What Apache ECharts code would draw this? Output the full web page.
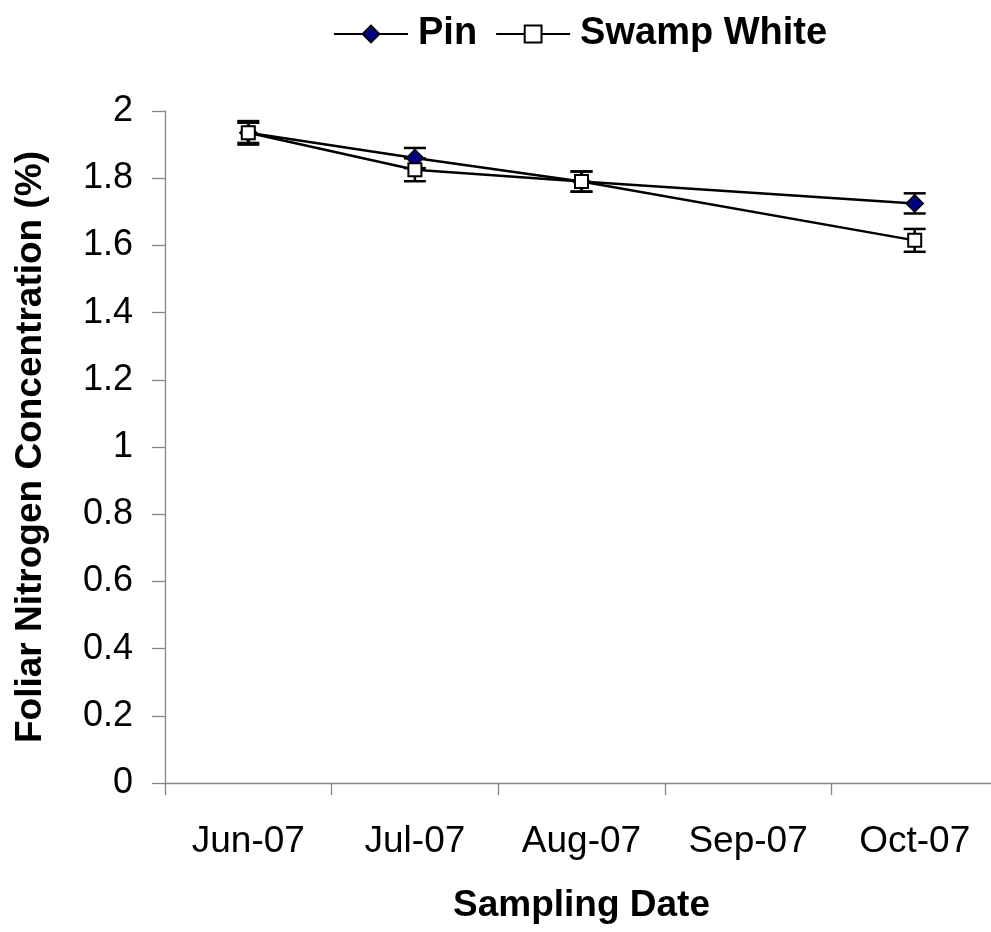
<!DOCTYPE html>
<html><head><meta charset="utf-8">
<script src="https://cdn.jsdelivr.net/npm/echarts@6/dist/echarts.min.js"></script>
<style>html,body{margin:0;padding:0;background:#fff;overflow:hidden}#c{width:1010px;height:932px}</style>
</head><body><div id="c"></div>
<script>
const categories = ['Jun-07', 'Jul-07', 'Aug-07', 'Sep-07', 'Oct-07'];
const pinValues = [1.935, 1.86, 1.79, null, 1.725];
const pinErrors = [0.03, 0.03, 0.03, null, 0.03];
const swampValues = [1.935, 1.825, 1.79, null, 1.615];
const swampErrors = [0.035, 0.034, 0.03, null, 0.034];

const FONT = 'Arial, "Liberation Sans", sans-serif';

function errData(vals, errs) {
  const out = [];
  vals.forEach((v, i) => { if (v != null) out.push([i, v, errs[i]]); });
  return out;
}
function errRender(params, api) {
  const x = api.value(0), v = api.value(1), e = api.value(2);
  const hi = api.coord([x, v + e]), lo = api.coord([x, v - e]);
  const cw = 11;
  const st = { stroke: '#000', lineWidth: 2.5 };
  return { type: 'group', children: [
    { type: 'line', shape: { x1: hi[0], y1: hi[1], x2: lo[0], y2: lo[1] }, style: st },
    { type: 'line', shape: { x1: hi[0] - cw, y1: hi[1], x2: hi[0] + cw, y2: hi[1] }, style: st },
    { type: 'line', shape: { x1: lo[0] - cw, y1: lo[1], x2: lo[0] + cw, y2: lo[1] }, style: st }
  ]};
}

const chart = echarts.init(document.getElementById('c'), null, { renderer: 'canvas' });
chart.setOption({
  backgroundColor: '#fff',
  animation: false,
  textStyle: { fontFamily: FONT },
  legend: {
    data: ['Pin', 'Swamp White'],
    left: 328, top: 10,
    itemWidth: 74, itemHeight: 21, itemGap: 18,
    textStyle: { fontFamily: FONT, fontSize: 38, fontWeight: 'bold', color: '#000', padding: [0, 0, 0, 5] }
  },
  grid: { left: 165, top: 111, width: 833, height: 672, containLabel: false },
  xAxis: {
    type: 'category', data: categories, boundaryGap: true,
    name: 'Sampling Date', nameLocation: 'middle', nameGap: 104,
    nameTextStyle: { fontFamily: FONT, fontSize: 37, fontWeight: 'bold', color: '#000' },
    axisLine: { lineStyle: { color: '#868686', width: 1.3 } },
    axisTick: { show: true, inside: false, length: 12, alignWithLabel: false, lineStyle: { color: '#868686', width: 1.3 } },
    axisLabel: { fontFamily: FONT, fontSize: 37, color: '#000', margin: 40, interval: 0 },
    splitLine: { show: false }
  },
  yAxis: {
    type: 'value', min: 0, max: 2, interval: 0.2,
    name: 'Foliar Nitrogen Concentration (%)', nameLocation: 'middle', nameGap: 116,
    nameTextStyle: { fontFamily: FONT, fontSize: 37, fontWeight: 'bold', color: '#000' },
    axisLine: { show: true, lineStyle: { color: '#868686', width: 1.3 } },
    axisTick: { show: true, inside: false, length: 13, lineStyle: { color: '#868686', width: 1.3 } },
    axisLabel: { fontFamily: FONT, fontSize: 36, color: '#000', margin: 32,
      formatter: v => String(Math.round(v * 10) / 10) },
    splitLine: { show: false }
  },
  series: [
    { name: 'PinErr', type: 'custom', data: errData(pinValues, pinErrors), renderItem: errRender, silent: true, z: 1 },
    { name: 'SwampErr', type: 'custom', data: errData(swampValues, swampErrors), renderItem: errRender, silent: true, z: 1 },
    { name: 'Pin', type: 'line', data: pinValues, connectNulls: true, z: 2,
      symbol: 'diamond', symbolSize: [17, 17],
      lineStyle: { color: '#000', width: 2.5 },
      itemStyle: { color: '#000080', borderColor: '#000', borderWidth: 1.5 } },
    { name: 'Swamp White', type: 'line', data: swampValues, connectNulls: true, z: 3,
      symbol: 'rect', symbolSize: 13,
      lineStyle: { color: '#000', width: 2.5 },
      itemStyle: { color: '#fff', borderColor: '#000', borderWidth: 2 } }
  ]
});
</script></body></html>
